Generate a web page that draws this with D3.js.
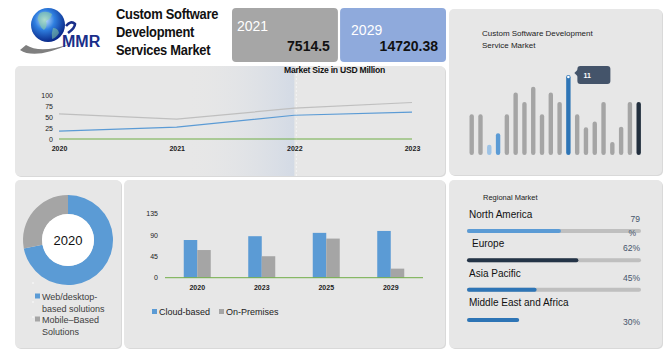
<!DOCTYPE html>
<html>
<head>
<meta charset="utf-8">
<script src="https://cdn.jsdelivr.net/npm/d3@7/dist/d3.min.js"></script>
<style>
html,body{margin:0;padding:0;background:#fff;}
svg{display:block;}
text{font-family:"Liberation Sans",Arial,sans-serif;}
</style>
</head>
<body>
<svg id="c" width="669" height="358"></svg>
<script>
// ---------- data ----------
const headerYears = ["2021", "2029"];
const headerValues = ["7514.5", "14720.38"];

const lineYears = ["2020", "2021", "2022", "2023"];
const lineTicks = [0, 25, 50, 75, 100];
const seriesGray = [57, 45, 70, 83];
const seriesBlue = [18, 27, 54, 61];
const seriesGreen = [0, 0, 0, 0];

const sparkValues = [5.6, 5.6, 1.4, 3.0, 5.6, 8.6, 7.3, 9.4, 5.6, 8.6, 7.3, 11, 5.6, 3.8, 4.6, 7.3, 1.8, 3.9, 7.3, 7.3];
const sparkHighlight = 11;

const donutLabels = ["Web/desktop-based solutions", "Mobile\u2013Based Solutions"];
const donutValues = [72, 28];

const barYears = ["2020", "2023", "2025", "2029"];
const barSeries = ["Cloud-based", "On-Premises"];
const cloudValues = [79, 87, 94, 98];
const onPremValues = [58, 45, 82, 19];
const barTicks = [0, 45, 90, 135];

const regions = ["North America", "Europe", "Asia Pacific", "Middle East and Africa"];
const regionShare = ["79", "62%", "45%", "30%"];
const regionBar = [54, 64, 40, 30];

// ---------- drawing ----------
const svg = d3.select("#c");
const defs = svg.append("defs");
const PANEL = "#e7e7e7";

function panel(x, y, w, h) {
  svg.append("rect").attr("x", x + 1).attr("y", y + 1).attr("width", w).attr("height", h)
    .attr("rx", 5).attr("fill", "#d9d9d9");
  svg.append("rect").attr("x", x).attr("y", y).attr("width", w).attr("height", h)
    .attr("rx", 5).attr("fill", PANEL);
}

// ----- logo -----
const lg = defs.append("radialGradient").attr("id", "globe").attr("cx", "40%").attr("cy", "35%").attr("r", "65%");
lg.append("stop").attr("offset", "0%").attr("stop-color", "#cfe6ff");
lg.append("stop").attr("offset", "45%").attr("stop-color", "#2f7fe0");
lg.append("stop").attr("offset", "100%").attr("stop-color", "#0a2a8a");
const logo = svg.append("g");
logo.append("path").attr("d", "M20,50 Q35,60 70,44 Q40,54 26,45 Z").attr("fill", "#7f7f7f");
logo.append("circle").attr("cx", 48).attr("cy", 25).attr("r", 17).attr("fill", "url(#globe)");
logo.append("path").attr("d", "M40,13 q6,-3 12,1 q-1,5 -6,7 q2,5 -2,9 q-4,-3 -5,-8 q-3,-4 1,-9 Z").attr("fill", "#8fd3a0").attr("opacity", 0.55);
logo.append("path").attr("d", "M53,28 q5,0 6,5 q-3,5 -7,6 q-1,-6 1,-11 Z").attr("fill", "#8fd3a0").attr("opacity", 0.5);
logo.append("path").attr("d", "M66,26 q5,-6 9,-2 q0,4 -7,9").attr("fill", "none").attr("stroke", "#1a2f8a").attr("stroke-width", 2.6);
logo.append("text").attr("x", 62).attr("y", 47).attr("font-family", "Liberation Serif, Times New Roman, serif")
  .attr("font-weight", "bold").attr("font-size", 16).attr("fill", "#1a2f8a").text("MMR");

// ----- title -----
const titleLines = ["Custom Software", "Development", "Services Market"];
svg.append("g").attr("transform", "translate(116,0) scale(0.89,1)")
  .selectAll("text").data(titleLines).join("text")
  .attr("x", 0).attr("y", (d, i) => 19 + i * 18)
  .attr("font-weight", "bold").attr("font-size", 14.5).attr("fill", "#111")
  .attr("letter-spacing", -0.3).text(d => d);

// ----- header boxes -----
const boxColors = ["#a6a6a6", "#8faadc"];
const boxX = d3.scaleBand().domain(headerYears).range([232, 446]).paddingInner(0.02);
headerYears.forEach((yr, i) => {
  const x0 = boxX(yr), w = boxX.bandwidth();
  svg.append("rect").attr("x", x0).attr("y", 8).attr("width", w).attr("height", 54).attr("rx", 4).attr("fill", boxColors[i]);
  svg.append("text").attr("x", x0 + (i === 0 ? 5 : 11)).attr("y", i === 0 ? 31 : 35).attr("font-size", 14).attr("fill", "#fff").text(yr);
  svg.append("text").attr("x", x0 + w - 8).attr("y", 51).attr("text-anchor", "end")
    .attr("font-size", 14).attr("font-weight", "bold").attr("fill", "#111").text(headerValues[i]);
});

// ----- line chart panel -----
panel(15, 66, 430, 110);
const grad = defs.append("linearGradient").attr("id", "band").attr("x1", "0").attr("x2", "1").attr("y1", "0").attr("y2", "0");
grad.append("stop").attr("offset", "0%").attr("stop-color", PANEL).attr("stop-opacity", 0);
grad.append("stop").attr("offset", "100%").attr("stop-color", "#d3dae5").attr("stop-opacity", 1);
const lx = d3.scalePoint().domain(lineYears).range([59, 412]);
const ly = d3.scaleLinear().domain([0, 100]).range([139, 95]);
svg.append("rect").attr("x", 185).attr("y", 66).attr("width", lx("2022") - 185).attr("height", 110).attr("fill", "url(#band)");
svg.append("line").attr("x1", lx("2022") + 2).attr("x2", lx("2022") + 2).attr("y1", 66).attr("y2", 176)
  .attr("stroke", "#f4f4f4").attr("stroke-width", 1).attr("stroke-dasharray", "2,2");
svg.append("text").attr("x", 284).attr("y", 73).attr("font-size", 8.6).attr("font-weight", "bold")
  .attr("letter-spacing", -0.25).attr("fill", "#111").text("Market Size in USD Million");

const lyAxis = svg.append("g").attr("transform", "translate(53,0)")
  .call(d3.axisLeft(ly).tickValues(lineTicks).tickSize(0).tickPadding(0));
lyAxis.select(".domain").remove();
lyAxis.selectAll("text").attr("font-size", 7).attr("fill", "#222").attr("font-family", "DejaVu Sans Mono, monospace").attr("dy", "0.32em");
const lxAxis = svg.append("g").attr("transform", "translate(0,146)")
  .call(d3.axisBottom(lx).tickSize(0).tickPadding(0));
lxAxis.select(".domain").remove();
lxAxis.selectAll("text").attr("font-size", 7).attr("fill", "#222").attr("font-weight", "bold").attr("font-family", "DejaVu Sans Mono, monospace");

const line = d3.line().x((d, i) => lx(lineYears[i])).y(d => ly(d));
[[seriesGreen, "#70ad47"], [seriesGray, "#bfbfbf"], [seriesBlue, "#5b9bd5"]].forEach(([s, c]) => {
  svg.append("path").datum(s).attr("d", line).attr("fill", "none").attr("stroke", c).attr("stroke-width", 1.2);
});

// ----- spark bars panel -----
panel(449, 9, 213, 166);
svg.append("text").attr("x", 482).attr("y", 36).attr("font-size", 8).attr("fill", "#222").text("Custom Software Development");
svg.append("text").attr("x", 482).attr("y", 48).attr("font-size", 8).attr("fill", "#222").text("Service Market");
const sx = d3.scalePoint().domain(d3.range(sparkValues.length)).range([471.7, 638.7]);
const sy = d3.scaleLinear().domain([0, 11]).range([155, 75]);
const sparkColor = i => i === sparkHighlight ? "#2e75b6" : i === 2 ? "#9dc3e6" : i === 3 ? "#5b9bd5" : i === sparkValues.length - 1 ? "#222f3e" : "#a5a5a5";
svg.append("g").selectAll("rect").data(sparkValues).join("rect")
  .attr("x", (d, i) => sx(i) - 2.2).attr("width", 4.4)
  .attr("y", d => sy(d)).attr("height", d => sy(0) - sy(d))
  .attr("rx", 2.2).attr("fill", (d, i) => sparkColor(i));
const hx = sx(sparkHighlight), hy = sy(sparkValues[sparkHighlight]);
svg.append("circle").attr("cx", hx).attr("cy", hy + 2).attr("r", 1.3).attr("fill", "#fff");
svg.append("path").attr("d", `M${hx + 6},${hy - 2} L${hx + 10},${hy - 6} L${hx + 10},${hy + 2} Z`).attr("fill", "#44546a");
svg.append("rect").attr("x", hx + 9).attr("y", hy - 9).attr("width", 33).attr("height", 18).attr("rx", 3).attr("fill", "#44546a");
svg.append("text").attr("x", hx + 15).attr("y", hy + 2.5).attr("font-size", 7).attr("font-weight", "bold").attr("fill", "#fff")
  .text(String(sparkValues[sparkHighlight]));

// ----- donut panel -----
panel(15, 180, 106, 168);
const pie = d3.pie().sort(null).value(d => d)(donutValues);
const arc = d3.arc().innerRadius(26).outerRadius(45);
const donutColors = ["#5b9bd5", "#a5a5a5"];
const dg = svg.append("g").attr("transform", "translate(68,240)");
dg.selectAll("path").data(pie).join("path").attr("d", arc).attr("fill", (d, i) => donutColors[i]);
dg.append("circle").attr("r", 26).attr("fill", "#fff");
dg.append("text").attr("y", 5).attr("text-anchor", "middle").attr("font-size", 13).attr("fill", "#111").text("2020");
const legendLines = [["Web/desktop-", "based solutions"], ["Mobile\u2013Based", "Solutions"]];
legendLines.forEach((ls, i) => {
  const y0 = 300 + i * 23;
  svg.append("rect").attr("x", 35).attr("y", y0 - 6.5).attr("width", 5).attr("height", 5).attr("fill", donutColors[i]);
  ls.forEach((t, j) => svg.append("text").attr("x", 42).attr("y", y0 + j * 11.5)
    .attr("font-size", 9).attr("fill", "#404040").text(t));
});
[283, 302, 317].forEach(y => svg.append("circle").attr("cx", 33).attr("cy", y).attr("r", 0.8).attr("fill", "#fff"));

// ----- grouped bars panel -----
panel(124, 180, 321, 168);
const bx = d3.scaleBand().domain(barYears).range([165, 423]);
const bInner = d3.scaleBand().domain(barSeries).range([0, 27]);
const by = d3.scaleLinear().domain([0, 135]).range([277.7, 213.3]);
const byAxis = svg.append("g").attr("transform", "translate(158,0)")
  .call(d3.axisLeft(by).tickValues(barTicks).tickSize(0).tickPadding(0));
byAxis.select(".domain").remove();
byAxis.selectAll("text").attr("font-size", 7).attr("fill", "#222").attr("font-family", "DejaVu Sans Mono, monospace").attr("dy", "0.32em");
const barColors = ["#5b9bd5", "#a5a5a5"];
const barData = barYears.map((y, i) => ({ year: y, vals: [cloudValues[i], onPremValues[i]] }));
const grp = svg.append("g").selectAll("g").data(barData).join("g")
  .attr("transform", d => `translate(${bx(d.year) + bx.bandwidth() / 2 - 13.5},0)`);
grp.selectAll("rect").data(d => d.vals).join("rect")
  .attr("x", (d, i) => bInner(barSeries[i])).attr("width", bInner.bandwidth())
  .attr("y", d => by(d)).attr("height", d => by(0) - by(d)).attr("fill", (d, i) => barColors[i]);
svg.append("line").attr("x1", 165).attr("x2", 423).attr("y1", by(0)).attr("y2", by(0)).attr("stroke", "#70ad47").attr("stroke-width", 1);
const bxAxis = svg.append("g").attr("transform", "translate(0,285)")
  .call(d3.axisBottom(bx).tickSize(0).tickPadding(0));
bxAxis.select(".domain").remove();
bxAxis.selectAll("text").attr("font-size", 7).attr("fill", "#222").attr("font-weight", "bold").attr("font-family", "DejaVu Sans Mono, monospace");
const legX = [152, 219];
barSeries.forEach((s, i) => {
  svg.append("rect").attr("x", legX[i]).attr("y", 309).attr("width", 5).attr("height", 5).attr("fill", barColors[i]);
  svg.append("text").attr("x", legX[i] + 7).attr("y", 315).attr("font-size", 9).attr("fill", "#222").text(s);
});

// ----- regional panel -----
panel(449, 180, 213, 168);
svg.append("text").attr("x", 483).attr("y", 200).attr("font-size", 7.5).attr("fill", "#222").text("Regional Market");
const rx = d3.scaleLinear().domain([0, 100]).range([0, 174]);
const rowY = d3.scalePoint().domain(regions).range([218, 306]);
const regionColors = ["#5b9bd5", "#243447", "#2e75b6", "#2e75b6"];
regions.forEach((r, i) => {
  const y = rowY(r);
  svg.append("text").attr("x", i === 1 ? 472 : 469).attr("y", y).attr("font-size", 10).attr("fill", "#111").text(r);
  const barY = i === 3 ? y + 12 : y + 11;
  if (i < 3) svg.append("rect").attr("x", 467).attr("y", barY).attr("width", rx(100)).attr("height", 4).attr("rx", 2).attr("fill", "#bfbfbf");
  svg.append("rect").attr("x", 467).attr("y", barY).attr("width", rx(regionBar[i])).attr("height", 4).attr("rx", 2).attr("fill", regionColors[i]);
  svg.append("text").attr("x", 640).attr("y", i === 3 ? y + 19 : y + 4).attr("text-anchor", "end").attr("font-size", 8.5)
    .attr("fill", "#44546a").text(regionShare[i]);
  if (i === 0) svg.append("text").attr("x", 636).attr("y", y + 18).attr("text-anchor", "end").attr("font-size", 8.5).attr("fill", "#44546a").text("%");
});
</script>
</body>
</html>
